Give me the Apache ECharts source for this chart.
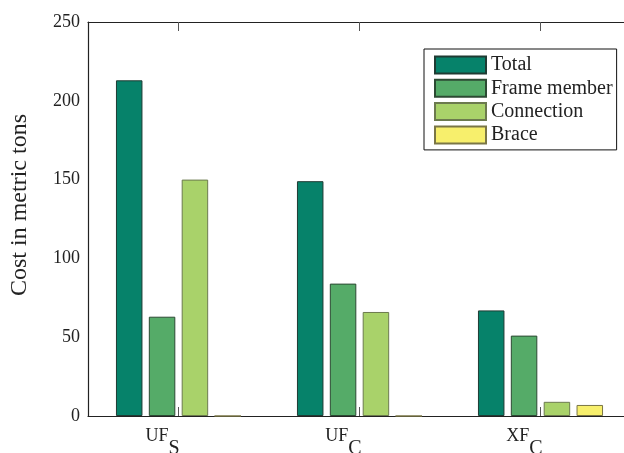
<!DOCTYPE html>
<html>
<head>
<meta charset="utf-8">
<script src="https://cdn.jsdelivr.net/npm/echarts@6/dist/echarts.min.js"></script>
<style>html,body{margin:0;padding:0;background:#fff;}#c{width:624px;height:453px;}</style>
</head>
<body>
<div id="c"></div>
<script>
var categories = ['UF|S', 'UF|C', 'XF|C'];
var totalVals = [213, 149, 67];
var frameVals = [63, 84, 51];
var connectionVals = [150, 66, 9];
var braceVals = [0, 0, 7];
var seriesNames = ['Total', 'Frame member', 'Connection', 'Brace'];
var yTicks = [0, 50, 100, 150, 200, 250];

var fills = ['#06826a', '#55ab68', '#a9d26a', '#f7ef6c'];
var borders = ['#1f3b33', '#2c4a33', '#6c7a4e', '#7a7646'];
var FONT = '"Liberation Serif", "Times New Roman", serif';

var chart = echarts.init(document.getElementById('c'), null, {renderer: 'canvas'});
var valueSets = [totalVals, frameVals, connectionVals, braceVals];
var series = valueSets.map(function (vals, i) {
  return {
    name: seriesNames[i],
    type: 'bar',
    data: vals,
    barWidth: 26.5,
    barGap: '24%',
    itemStyle: {color: fills[i], borderColor: borders[i], borderWidth: 1},
    emphasis: {disabled: true}
  };
});

chart.setOption({
  animation: false,
  backgroundColor: '#fff',
  grid: {left: 88, top: 22, width: 543, bottom: 37, outerBoundsMode: 'none', containLabel: false},
  legend: {
    orient: 'vertical',
    left: 424,
    top: 49,
    data: seriesNames,
    itemWidth: 51,
    itemHeight: 17,
    itemGap: 3.3,
    padding: [6, 4, 5, 10],
    borderColor: '#111',
    borderWidth: 1,
    backgroundColor: '#fff',
    icon: 'rect',
    selectedMode: false,
    textStyle: {fontFamily: FONT, fontSize: 20, color: '#222'}
  },
  xAxis: [{
    type: 'category',
    data: categories,
    position: 'bottom',
    axisLine: {show: true, lineStyle: {color: '#222', width: 1.2}},
    axisTick: {show: true, inside: true, alignWithLabel: true, length: 9, lineStyle: {color: '#555'}},
    axisLabel: {
      margin: 11,
      formatter: function (v) {
        var p = v.split('|');
        return '{a|' + p[0] + '}{b|' + p[1] + '}';
      },
      padding: [0, 32, 0, 0],
      rich: {
        a: {fontFamily: FONT, fontSize: 18, color: '#222', verticalAlign: 'top', lineHeight: 18},
        b: {fontFamily: FONT, fontSize: 20, color: '#222', verticalAlign: 'top', padding: [12, 0, 0, 0], lineHeight: 20}
      }
    },
    splitLine: {show: false}
  }, {
    type: 'category',
    data: categories,
    position: 'top',
    axisLine: {show: true, lineStyle: {color: '#222', width: 1.2}},
    axisTick: {show: true, inside: true, alignWithLabel: true, length: 9, lineStyle: {color: '#555'}},
    axisLabel: {show: false},
    splitLine: {show: false}
  }],
  yAxis: {
    type: 'value',
    min: yTicks[0],
    max: yTicks[yTicks.length - 1],
    interval: 50,
    name: 'Cost in metric tons',
    nameLocation: 'middle',
    nameGap: 56,
    nameTextStyle: {fontFamily: FONT, fontSize: 24, color: '#222', padding: [0, 0, 0, 28]},
    axisLine: {show: true, lineStyle: {color: '#222', width: 1.2}},
    axisTick: {show: false},
    axisLabel: {fontFamily: FONT, fontSize: 18, color: '#222', margin: 8},
    splitLine: {show: false}
  },
  series: series
});
</script>
</body>
</html>
